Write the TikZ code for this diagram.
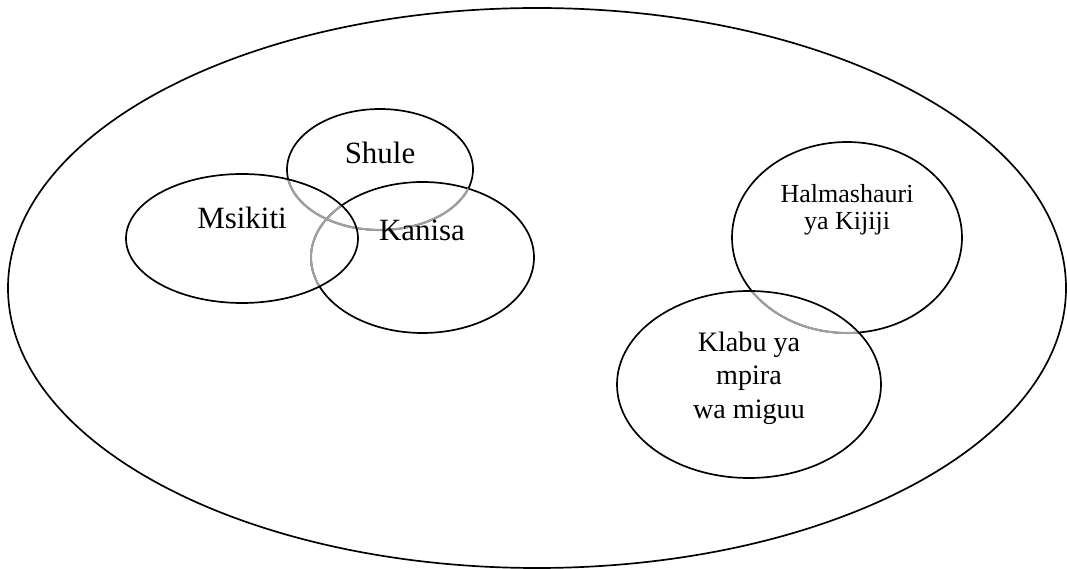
\documentclass[tikz,border=0pt]{standalone}
\usepackage{fontspec}
\setmainfont{Liberation Serif}
\begin{document}
\begin{tikzpicture}[x=0.025cm, y=-0.025cm, line width=1.2pt,
    overlap/.style={gray!75, line width=1.5pt},
    lbl/.style={inner sep=0pt, font=\fontsize{22}{26}\selectfont},
    kijijiR/.style={x radius=529, y radius=280},
    shuleR/.style={x radius=93, y radius=60.5},
    msikitiR/.style={x radius=116, y radius=64.5},
    kanisaR/.style={x radius=111.5, y radius=75.5},
    halmaR/.style={x radius=115, y radius=95.5},
    klabuR/.style={x radius=132, y radius=93.5}]
    \useasboundingbox (0,0) rectangle (1067,569);
    \coordinate (kijiji) at (537,288);
    \coordinate (shule) at (380,169.5);
    \coordinate (msikiti) at (242,238.5);
    \coordinate (kanisa) at (422.5,257.5);
    \coordinate (halma) at (847,237.5);
    \coordinate (klabu) at (749,384.5);
    % kijiji
    \draw (kijiji) ellipse [kijijiR];
    % taasisi za kushoto
    \draw (shule) ellipse [shuleR];
    \draw (kanisa) ellipse [kanisaR];
    \begin{scope}
        \clip (kanisa) ellipse [kanisaR];
        \draw[overlap] (shule) ellipse [shuleR];
    \end{scope}
    \begin{scope}
        \clip (msikiti) ellipse [msikitiR];
        \draw[overlap] (shule) ellipse [shuleR];
        \draw[overlap] (kanisa) ellipse [kanisaR];
    \end{scope}
    \draw (msikiti) ellipse [msikitiR];
    % taasisi za kulia
    \draw (halma) ellipse [halmaR];
    \begin{scope}
        \clip (klabu) ellipse [klabuR];
        \draw[overlap] (halma) ellipse [halmaR];
    \end{scope}
    \draw (klabu) ellipse [klabuR];
    \node[lbl, anchor=base] (shuleT) at (380,164) {Shule};
    \node[lbl, anchor=base] (msikitiT) at (242,229) {Msikiti};
    \node[lbl, anchor=base] (kanisaT) at (422,241) {Kanisa};
    \node[lbl, align=center, font=\fontsize{18.5}{19.2}\selectfont] (halmaT) at (847,209.5) {Halmashauri\\ya Kijiji};
    \node[lbl, align=center, font=\fontsize{20}{23.7}\selectfont] (klabuT) at (749,378) {Klabu ya\\mpira\\wa miguu};
\end{tikzpicture}
\end{document}
